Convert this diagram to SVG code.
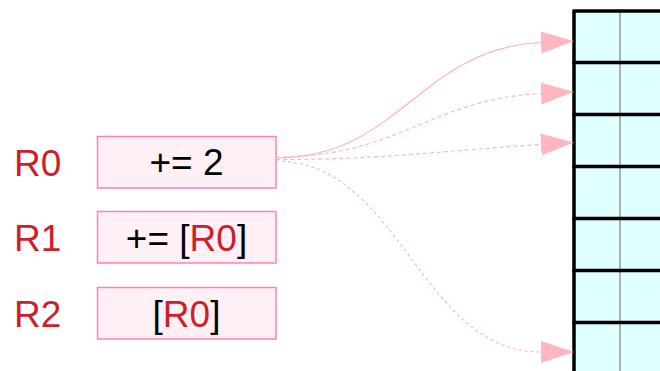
<svg xmlns="http://www.w3.org/2000/svg" width="660" height="371" viewBox="0 0 660 371">
<defs>
<style>
.lbl{font-family:"Liberation Sans",Arial,sans-serif;font-size:37px;fill:#cc1f2a}
.txt{font-family:"Liberation Sans",Arial,sans-serif;font-size:37px;fill:#000;text-anchor:middle}
.red{fill:#cc1f2a}
.box{fill:#fff0f5;stroke:#ff80c0;stroke-width:1.5}
.cell{fill:#e0ffff}
.conn{fill:none;stroke:#ffb0c0;stroke-width:1.1}
.dash{stroke-dasharray:4,3}
.dot{stroke-dasharray:3,3}
</style>
<marker id="ah" markerUnits="userSpaceOnUse" markerWidth="34" markerHeight="22" refX="0" refY="11" orient="auto">
<path d="M0,0 L33,11 L0,22 Z" fill="#ffb6c1"/>
</marker>
</defs>
<g id="memory">
<rect x="574" y="11" width="100" height="370" class="cell"/>
<line x1="620" y1="11" x2="620" y2="371" stroke="#999" stroke-width="1.5"/>
<g stroke="#000" stroke-width="3.5">
<line x1="574" y1="11" x2="574" y2="371"/>
<line x1="572.5" y1="11" x2="660" y2="11"/>
<line x1="572.5" y1="62.5" x2="660" y2="62.5"/>
<line x1="572.5" y1="114.5" x2="660" y2="114.5"/>
<line x1="572.5" y1="166.5" x2="660" y2="166.5"/>
<line x1="572.5" y1="218.5" x2="660" y2="218.5"/>
<line x1="572.5" y1="270.5" x2="660" y2="270.5"/>
<line x1="572.5" y1="322.5" x2="660" y2="322.5"/>
</g>
</g>
<g id="label-R0"><text x="14" y="176" class="lbl">R0</text></g>
<g id="label-R1"><text x="14" y="251" class="lbl">R1</text></g>
<g id="label-R2"><text x="14" y="327" class="lbl">R2</text></g>
<g id="node-R0">
<rect x="97.5" y="136.5" width="178.5" height="51.5" class="box"/>
<text x="186.5" y="175" class="txt">+= 2</text>
</g>
<g id="node-R1">
<rect x="97.5" y="211.5" width="178.5" height="51.5" class="box"/>
<text x="186.5" y="251" class="txt">+= [<tspan class="red">R0</tspan>]</text>
</g>
<g id="node-R2">
<rect x="97.5" y="287.5" width="178.5" height="51.5" class="box"/>
<text x="186.5" y="327" class="txt">[<tspan class="red">R0</tspan>]</text>
</g>
<g id="connectors">
<path class="conn" d="M276,158 C400,158 420,48 541,42.5" marker-end="url(#ah)"/>
<path class="conn dash" d="M276,157 C400,157 430,99 541,93.5" marker-end="url(#ah)"/>
<path class="conn dash" d="M276,159.5 C380,160 450,150 541,144.5" marker-end="url(#ah)"/>
<path class="conn dot" d="M276,161 C400,161 420,352 541,352" marker-end="url(#ah)"/>
</g>
</svg>
